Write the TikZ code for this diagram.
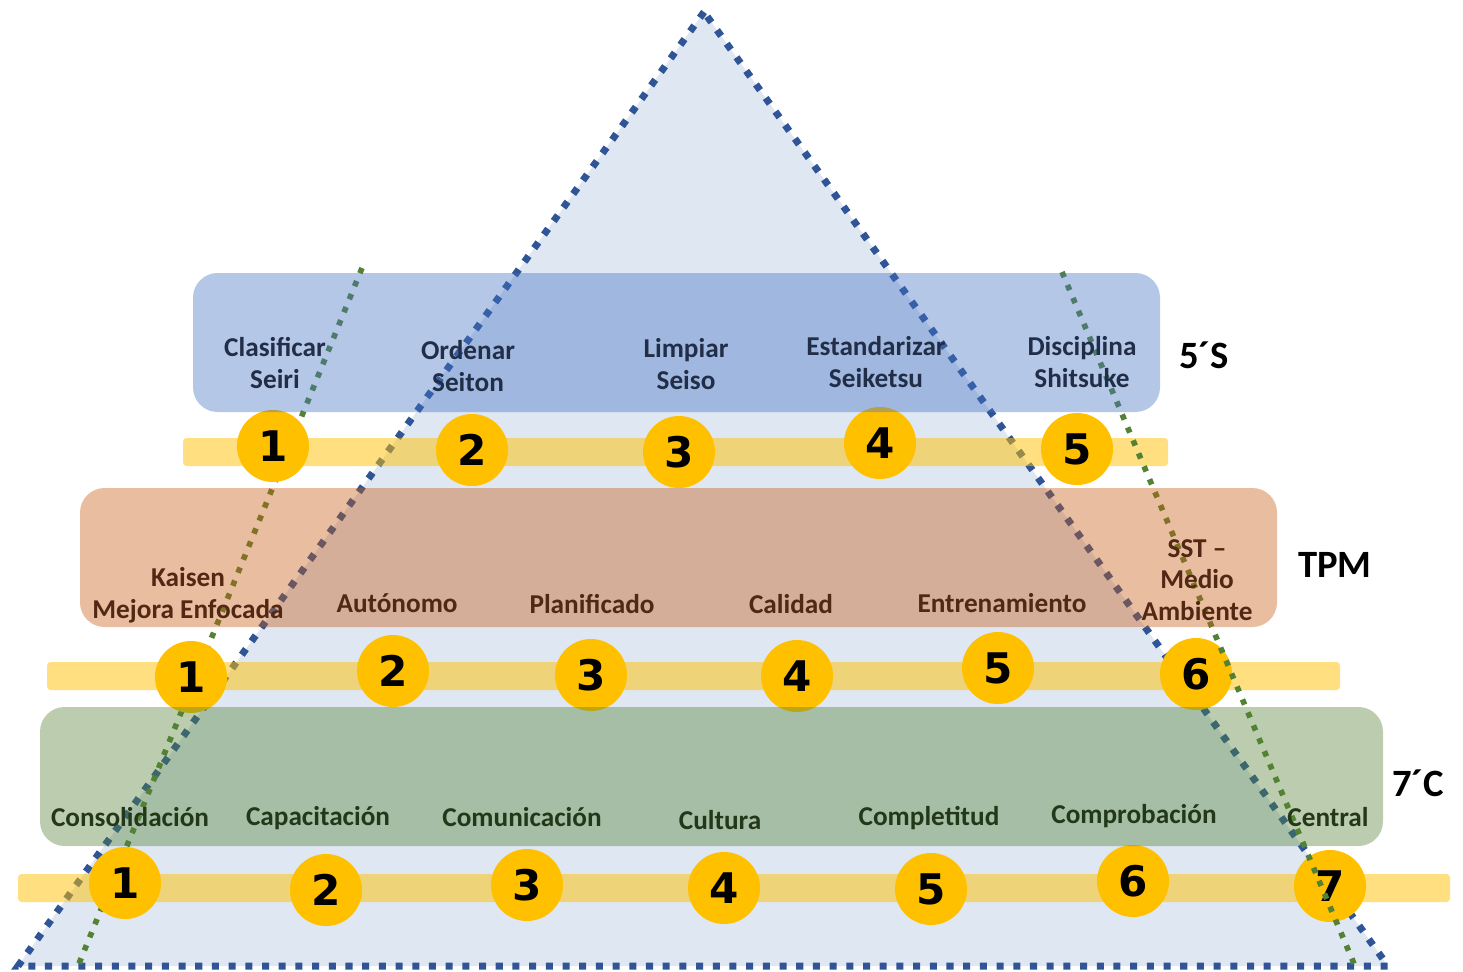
\documentclass[tikz,border=0pt]{standalone}
\usepackage{fontspec}
\setmainfont{Carlito}
\newfontfamily\digitfont{DejaVu Sans}
\definecolor{tribg}{RGB}{222,231,242}
\definecolor{dotblue}{RGB}{47,85,151}
\definecolor{dotgreen}{RGB}{84,130,53}
\definecolor{bandblue}{RGB}{68,114,196}
\definecolor{bandorange}{RGB}{197,90,17}
\definecolor{bandgreen}{RGB}{84,130,53}
\definecolor{stripgold}{RGB}{255,192,0}
\definecolor{textnavy}{RGB}{34,46,72}
\definecolor{textbrown}{RGB}{80,40,20}
\definecolor{textgreen}{RGB}{35,55,25}
\tikzset{%
  band/.style      = {rounded corners=14pt, fill opacity=0.4},%
  strip/.style     = {fill=stripgold, fill opacity=0.5, rounded corners=2pt},%
  num/.style       = {circle, fill=stripgold, inner sep=0pt, minimum size=14.4mm,%
                      font=\digitfont\bfseries\fontsize{24}{24}\selectfont},%
  item/.style      = {align=center, font=\bfseries\fontsize{15.5}{18}\selectfont},%
  ssitem/.style    = {item, text=textnavy},%
  tpmitem/.style   = {item, text=textbrown},%
  citem/.style     = {item, text=textgreen},%
  tier/.style      = {font=\bfseries\fontsize{22}{24}\selectfont},%
  bluedots/.style  = {draw=dotblue, line width=4pt, dash pattern=on 4pt off 5.5pt},%
  greendots/.style = {draw=dotgreen, line width=3.2pt, dash pattern=on 3.2pt off 4.8pt}%
}
\begin{document}
\begin{tikzpicture}[x=0.2mm,y=-0.2mm]
  \useasboundingbox (0,0) rectangle (1463,971);
  % pyramid
  \coordinate (apex) at (704,12);
  \coordinate (baseL) at (18,966);
  \coordinate (baseR) at (1388,966);
  \fill[tribg] (apex) -- (baseL) -- (baseR) -- cycle;
  \draw[bluedots] (apex) -- (baseL) -- (baseR) -- cycle;
  \coordinate (gtopL) at (362,268);
  \coordinate (gbotL) at (78,966);
  \coordinate (gtopR) at (1062,272);
  \coordinate (gbotR) at (1355,966);
  \draw[greendots] (gtopL) -- (gbotL);
  % strips
  \fill[strip] (183,438) rectangle (1168,466);
  \fill[strip] (47,662) rectangle (1340,690);
  \fill[strip] (18,874) rectangle (1450,902);
  % steps
  \node[num] (s1) at (273,446) {1};
  \node[num] (s2) at (472,450) {2};
  \node[num] (s3) at (679,452) {3};
  \node[num] (s4) at (880,443) {4};
  \node[num] (s5) at (1077,449) {5};
  \node[num] (t1) at (191,677) {1};
  \node[num] (t2) at (393,671) {2};
  \node[num] (t3) at (591,675) {3};
  \node[num] (t4) at (797,676) {4};
  \node[num] (t5) at (998,668) {5};
  \node[num] (t6) at (1196,674) {6};
  \node[num] (c1) at (125,883) {1};
  \node[num] (c2) at (326,890) {2};
  \node[num] (c3) at (527,885) {3};
  \node[num] (c4) at (724,888) {4};
  \node[num] (c5) at (931,889) {5};
  \node[num] (c6) at (1133,881) {6};
  \node[num] (c7) at (1330,886) {7};
  \draw[greendots] (gtopR) -- (gbotR);
  % bands
  \fill[band, bandblue] (193,273) rectangle (1160,412);
  \fill[band, bandorange] (80,488) rectangle (1277,627);
  \fill[band, bandgreen] (40,707) rectangle (1383,846);
  % 5'S
  \node[ssitem] (seiri) at (275,363) {Clasificar\\Seiri};
  \node[ssitem] (seiton) at (468,366) {Ordenar\\Seiton};
  \node[ssitem] (seiso) at (686,364) {Limpiar\\Seiso};
  \node[ssitem] (seiketsu) at (876,362) {Estandarizar\\Seiketsu};
  \node[ssitem] (shitsuke) at (1082,362) {Disciplina\\Shitsuke};
  \node[tier] (fives) at (1204,355) {5´S};
  % TPM
  \node[tpmitem] (kaisen) at (188,595) {Kaisen\\Mejora Enfocada};
  \node[tpmitem] (autonomo) at (397,603) {Autónomo};
  \node[tpmitem] (planificado) at (592,604) {Planificado};
  \node[tpmitem] (calidad) at (791,604) {Calidad};
  \node[tpmitem] (entrena) at (1002,603) {Entrenamiento};
  \node[tpmitem] (sst) at (1197,580) {SST –\\Medio\\Ambiente};
  \node[tier] (tpm) at (1335,565) {TPM};
  % 7'C
  \node[citem] (consol) at (130,817) {Consolidación};
  \node[citem] (capac) at (318,818) {Capacitación};
  \node[citem] (comun) at (522,817) {Comunicación};
  \node[citem] (cultura) at (720,820) {Cultura};
  \node[citem] (complet) at (929,818) {Completitud};
  \node[citem] (comprob) at (1134,816) {Comprobación};
  \node[citem] (central) at (1328,817) {Central};
  \node[tier] (sevenc) at (1418,783) {7´C};
\end{tikzpicture}
\end{document}
